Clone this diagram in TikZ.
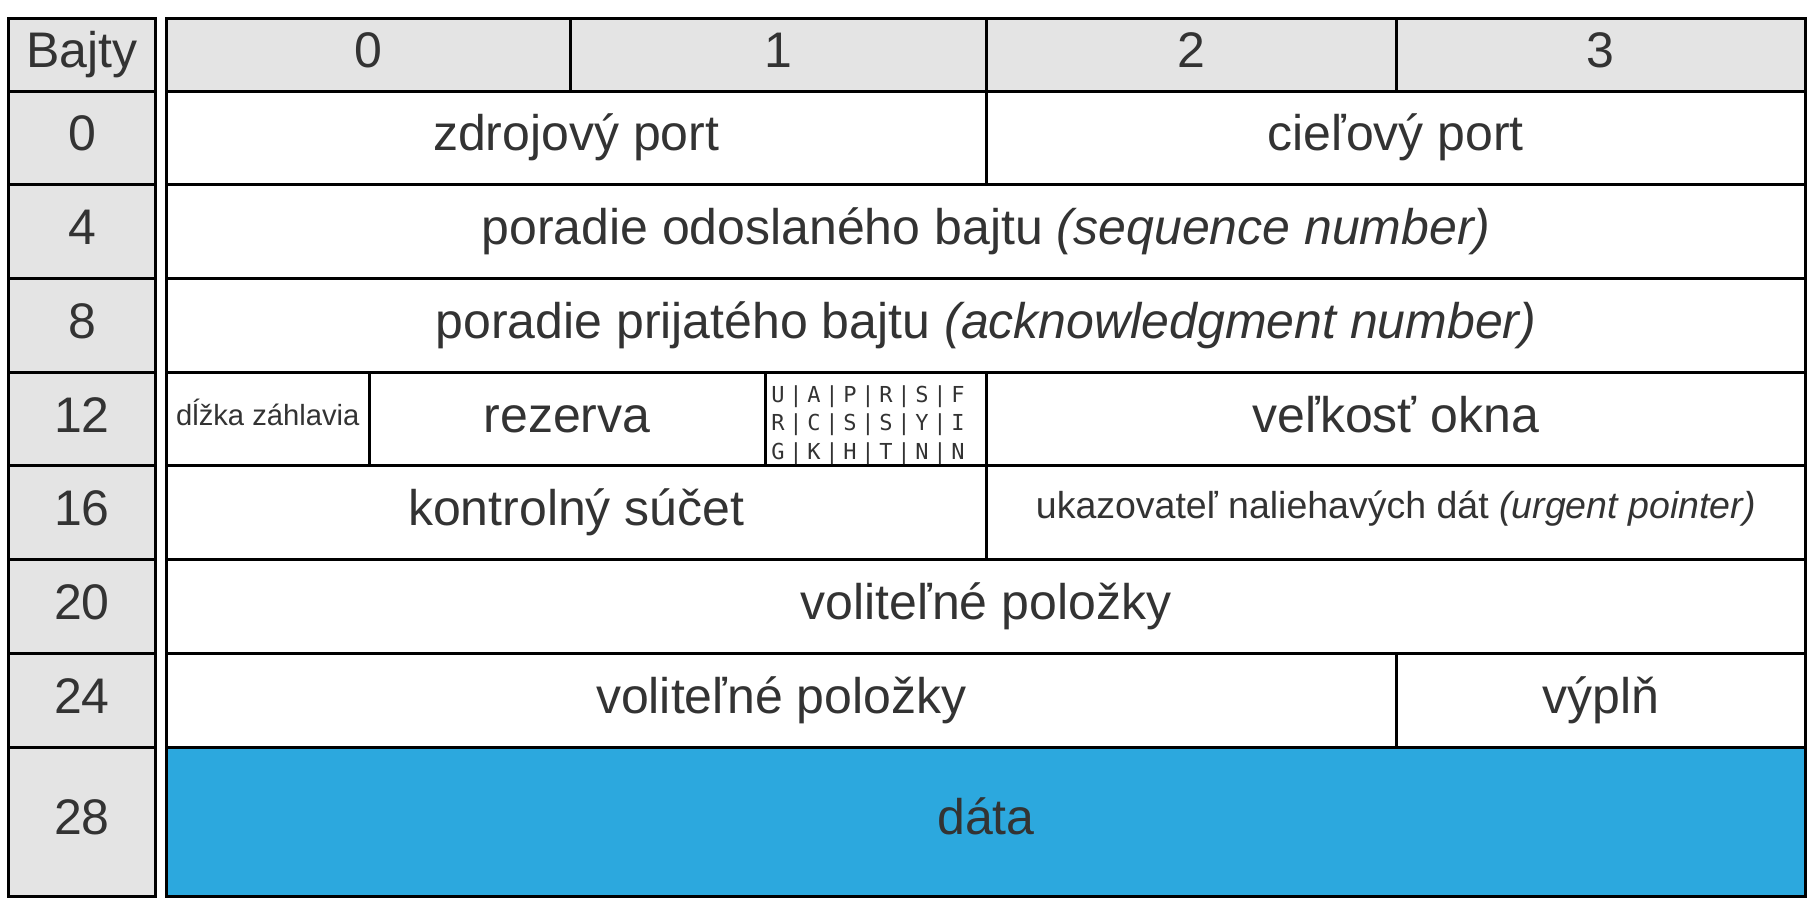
\documentclass[tikz,border=0pt]{standalone}
\usepackage{fontspec}
\setmainfont{Liberation Sans}
\newfontfamily\flagfont{DejaVu Sans Mono}
\definecolor{ink}{HTML}{333333}
\definecolor{headgray}{HTML}{E4E4E4}
\definecolor{datablue}{HTML}{2CA8DE}

% one rectangular field: name, x1, y1, x2, y2, style, text
\newcommand\fieldat[7]{%
  \node[#6, minimum width={#4-#2}, minimum height={#5-#3}] (#1)
    at ({(#2+#4)/2},{(#3+#5)/2}) {#7};}

\begin{document}
\begin{tikzpicture}[x=1pt,y=-1pt,
  cellbase/.style={draw=black, line width=3pt, inner sep=0pt, outer sep=0pt,
    text=ink, align=center},
  bigtext/.style={font=\fontsize{50}{60}\selectfont, text height=36.4pt, text depth=10.5pt},
  headcell/.style={cellbase, bigtext, fill=headgray},
  bodycell/.style={cellbase, bigtext, fill=white},
  datacell/.style={cellbase, bigtext, fill=datablue},
  midtext/.style={font=\fontsize{37.5}{45}\selectfont, text height=19pt, text depth=8pt},
  smalltext/.style={font=\fontsize{29.2}{35}\selectfont, text height=18.3pt, text depth=6pt},
  flagchar/.style={inner sep=0pt, outer sep=0pt, text=ink,
    font=\flagfont\fontsize{22}{26}\selectfont, text height=16pt, text depth=0pt},
]
\useasboundingbox (0,0) rectangle (1813,908);

% column of byte offsets
\fieldat{hdrl}{8.5}{18.5}{155.5}{91}{headcell}{Bajty}
\fieldat{off0}{8.5}{91}{155.5}{184.7}{headcell}{0}
\fieldat{off4}{8.5}{184.7}{155.5}{278.4}{headcell}{4}
\fieldat{off8}{8.5}{278.4}{155.5}{372.2}{headcell}{8}
\fieldat{off12}{8.5}{372.2}{155.5}{465.9}{headcell}{12}
\fieldat{off16}{8.5}{465.9}{155.5}{559.6}{headcell}{16}
\fieldat{off20}{8.5}{559.6}{155.5}{653.3}{headcell}{20}
\fieldat{off24}{8.5}{653.3}{155.5}{747}{headcell}{24}
\fieldat{off28}{8.5}{747}{155.5}{896.5}{headcell}{28}

% byte numbers within a word
\fieldat{hdr0}{166.5}{18.5}{570}{91}{headcell}{0}
\fieldat{hdr1}{570}{18.5}{986}{91}{headcell}{1}
\fieldat{hdr2}{986}{18.5}{1396}{91}{headcell}{2}
\fieldat{hdr3}{1396}{18.5}{1805.5}{91}{headcell}{3}

% header fields
\fieldat{srcport}{166.5}{91}{986}{184.7}{bodycell}{zdrojový port}
\fieldat{dstport}{986}{91}{1805.5}{184.7}{bodycell}{cieľový port}
\fieldat{seq}{166.5}{184.7}{1805.5}{278.4}{bodycell}{poradie odoslaného bajtu \textit{(sequence number)}}
\fieldat{ack}{166.5}{278.4}{1805.5}{372.2}{bodycell}{poradie prijatého bajtu \textit{(acknowledgment number)}}
\fieldat{hlen}{166.5}{372.2}{369}{465.9}{bodycell,smalltext}{dĺžka záhlavia}
\fieldat{rsv}{369}{372.2}{765}{465.9}{bodycell}{rezerva}
\fieldat{flags}{765}{372.2}{986}{465.9}{bodycell}{}
\fieldat{win}{986}{372.2}{1805.5}{465.9}{bodycell}{veľkosť okna}
\fieldat{csum}{166.5}{465.9}{986}{559.6}{bodycell}{kontrolný súčet}
\fieldat{urg}{986}{465.9}{1805.5}{559.6}{bodycell,midtext}{ukazovateľ naliehavých dát \textit{(urgent pointer)}}
\fieldat{opt}{166.5}{559.6}{1805.5}{653.3}{bodycell}{voliteľné položky}
\fieldat{opt2}{166.5}{653.3}{1396}{747}{bodycell}{voliteľné položky}
\fieldat{pad}{1396}{653.3}{1805.5}{747}{bodycell}{výplň}
\fieldat{data}{166.5}{747}{1805.5}{896.5}{datacell}{dáta}

% control bits, written vertically
\foreach \a/\b/\c [count=\i from 0] in {U/R/G, A/C/K, P/S/H, R/S/T, S/Y/N, F/I/N} {
  \node[flagchar] (flag-\i-a) at ({778+36*\i},394) {\a};
  \node[flagchar] (flag-\i-b) at ({778+36*\i},422.5) {\b};
  \node[flagchar] (flag-\i-c) at ({778+36*\i},451) {\c};
}
\foreach \i in {0,...,4} {
  \node[flagchar] (bar-\i-a) at ({796+36*\i},394) {|};
  \node[flagchar] (bar-\i-b) at ({796+36*\i},422.5) {|};
  \node[flagchar] (bar-\i-c) at ({796+36*\i},451) {|};
}
\end{tikzpicture}
\end{document}
